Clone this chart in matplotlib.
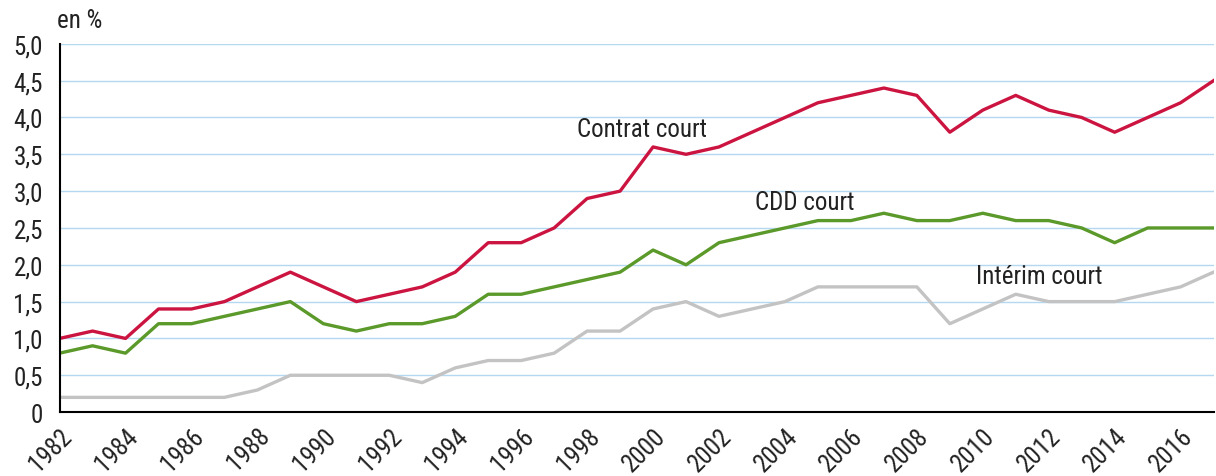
import matplotlib.pyplot as plt
from matplotlib.ticker import FuncFormatter

plt.rcParams['font.family'] = ['Liberation Sans Narrow', 'Roboto Condensed', 'Archivo Narrow', 'DejaVu Sans']
plt.rcParams['font.size'] = 15

years = list(range(1982, 2018))
contrat = [1.0, 1.1, 1.0, 1.4, 1.4, 1.5, 1.7, 1.9, 1.7, 1.5, 1.6, 1.7, 1.9, 2.3, 2.3, 2.5, 2.9, 3.0,
           3.6, 3.5, 3.6, 3.8, 4.0, 4.2, 4.3, 4.4, 4.3, 3.8, 4.1, 4.3, 4.1, 4.0, 3.8, 4.0, 4.2, 4.5]
cdd = [0.8, 0.9, 0.8, 1.2, 1.2, 1.3, 1.4, 1.5, 1.2, 1.1, 1.2, 1.2, 1.3, 1.6, 1.6, 1.7, 1.8, 1.9,
       2.2, 2.0, 2.3, 2.4, 2.5, 2.6, 2.6, 2.7, 2.6, 2.6, 2.7, 2.6, 2.6, 2.5, 2.3, 2.5, 2.5, 2.5]
interim = [0.2, 0.2, 0.2, 0.2, 0.2, 0.2, 0.3, 0.5, 0.5, 0.5, 0.5, 0.4, 0.6, 0.7, 0.7, 0.8, 1.1, 1.1,
           1.4, 1.5, 1.3, 1.4, 1.5, 1.7, 1.7, 1.7, 1.7, 1.2, 1.4, 1.6, 1.5, 1.5, 1.5, 1.6, 1.7, 1.9]
xticks = list(range(1982, 2017, 2))
yticks = [0, 0.5, 1, 1.5, 2, 2.5, 3, 3.5, 4, 4.5, 5]

fig = plt.figure(figsize=(12.16, 4.77), dpi=100)
ax = fig.add_axes([0.049, 0.134, 0.949, 0.772])

ax.plot(years, interim, color="#c3c3c3", lw=2.4)
ax.plot(years, cdd, color="#5b9a2a", lw=2.4)
ax.plot(years, contrat, color="#cc1440", lw=2.4)

ax.set_xlim(1982, 2017)
ax.set_ylim(0, 5)
ax.set_xticks(xticks)
ax.set_xticklabels([str(y) for y in xticks], rotation=45, ha='right', rotation_mode='anchor')
ax.set_yticks(yticks)
ax.yaxis.set_major_formatter(FuncFormatter(lambda v, p: "0" if v == 0 else f"{v:.1f}".replace(".", ",")))
ax.tick_params(length=0, labelsize=18, colors="#222222")
ax.tick_params(axis='x', pad=8)
ax.tick_params(axis='y', pad=12)

ax.grid(axis='y', color="#b4d8f0", lw=1)
ax.set_axisbelow(True)
for s in ['top', 'right']:
    ax.spines[s].set_visible(False)
ax.spines['left'].set_color('black')
ax.spines['bottom'].set_color('black')
ax.spines['left'].set_linewidth(1.5)
ax.spines['bottom'].set_linewidth(1.5)

ax.text(1997.7, 3.85, "Contrat court", fontsize=18, va='center', ha='left', color="#222222")
ax.text(2003.1, 2.85, "CDD court", fontsize=18, va='center', ha='left', color="#222222")
ax.text(2009.8, 1.85, "Intérim court", fontsize=18, va='center', ha='left', color="#222222")
fig.text(0.047, 0.955, "en %", fontsize=18, va='center', ha='left', color="#222222")

fig.savefig("out.png", dpi=100)
